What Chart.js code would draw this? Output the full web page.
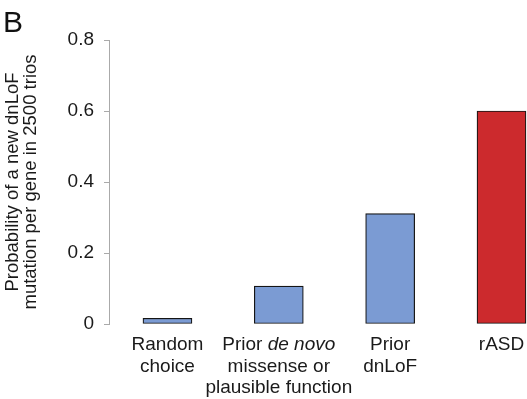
<!DOCTYPE html>
<html>
<head>
<meta charset="utf-8">
<script src="https://cdn.jsdelivr.net/npm/chart.js@4.4.1/dist/chart.umd.min.js"></script>
<style>
  html, body { margin: 0; padding: 0; background: #fff; }
  #wrap { position: relative; width: 527px; height: 399px; }
  canvas { display: block; }
</style>
</head>
<body>
<div id="wrap"><canvas id="c" width="527" height="399"></canvas></div>
<script>
// Categories (multi-line labels) and probabilities per gene in 2500 trios
const categories = [
  ["Random", "choice"],
  ["Prior de novo", "missense or", "plausible function"],
  ["Prior", "dnLoF"],
  ["rASD"]
];
const probabilities = [0.016, 0.107, 0.311, 0.600];
const barColors = ["#7b9bd3", "#7b9bd3", "#7b9bd3", "#cc2a2d"];
const yTicks = [0, 0.2, 0.4, 0.6, 0.8];
const yTitle = ["Probability of a new dnLoF", "mutation per gene in 2500 trios"];
const italicPhrases = ["de novo"];

const FONT = "'Liberation Sans', Arial, Helvetica, sans-serif";
const TEXT = "#1a1a1a";

// Draws the multi-line category labels under each bar, with italic phrases
const categoryLabels = {
  id: "categoryLabels",
  afterDraw(chart) {
    const ctx = chart.ctx;
    const xs = chart.scales.x;
    const base = chart.scales.y.getPixelForValue(0);
    const size = 19, lineH = 21.5;
    ctx.save();
    ctx.fillStyle = TEXT;
    ctx.textBaseline = "alphabetic";
    categories.forEach((lines, i) => {
      const cx = xs.getPixelForValue(i);
      lines.forEach((line, j) => {
        // split the line into normal / italic runs
        const runs = [];
        let rest = line;
        while (rest.length) {
          let hit = -1, phrase = null;
          italicPhrases.forEach(p => {
            const k = rest.indexOf(p);
            if (k >= 0 && (hit < 0 || k < hit)) { hit = k; phrase = p; }
          });
          if (hit < 0) { runs.push([rest, false]); break; }
          if (hit > 0) runs.push([rest.slice(0, hit), false]);
          runs.push([phrase, true]);
          rest = rest.slice(hit + phrase.length);
        }
        const fontFor = it => (it ? "italic " : "") + size + "px " + FONT;
        let total = 0;
        runs.forEach(r => { ctx.font = fontFor(r[1]); total += ctx.measureText(r[0]).width; });
        let x = cx - total / 2;
        const y = base + 26 + j * lineH;
        ctx.textAlign = "left";
        runs.forEach(r => {
          ctx.font = fontFor(r[1]);
          ctx.fillText(r[0], x, y);
          x += ctx.measureText(r[0]).width;
        });
      });
    });
    ctx.restore();
  }
};

new Chart(document.getElementById("c"), {
  type: "bar",
  data: {
    datasets: [{
      data: probabilities.map((v, i) => ({ x: i, y: v })),
      backgroundColor: barColors,
      borderColor: "#151515",
      borderWidth: 1.2,
      borderSkipped: false,
      barThickness: 49
    }]
  },
  options: {
    responsive: false,
    animation: false,
    devicePixelRatio: 1,
    layout: { padding: { left: 0, right: 0, top: 40, bottom: 75 } },
    plugins: { legend: { display: false }, tooltip: { enabled: false } },
    scales: {
      x: {
        type: "linear",
        offset: false,
        min: -0.525,
        max: 3.229,
        display: false
      },
      y: {
        min: 0,
        max: 0.8,
        afterFit(scale) { scale.width = 109; },
        afterBuildTicks(scale) { scale.ticks = yTicks.map(v => ({ value: v })); },
        border: { display: true, color: "#aaaaaa", width: 1 },
        grid: { display: true, drawOnChartArea: false, drawTicks: true, tickLength: 5, color: "#aaaaaa" },
        ticks: {
          color: TEXT,
          padding: 10,
          font: { family: FONT, size: 19 },
          callback: v => (v === 0 ? "0" : v.toFixed(1))
        },
        title: {
          display: true,
          text: yTitle,
          color: TEXT,
          padding: { top: 3.5, bottom: 0 },
          font: { family: FONT, size: 18.5, lineHeight: 1.0 }
        }
      }
    }
  },
  plugins: [categoryLabels, {
    id: "panelLetter",
    afterDraw(chart) {
      const ctx = chart.ctx;
      ctx.save();
      ctx.fillStyle = "#111";
      ctx.font = "30px " + FONT;
      ctx.textBaseline = "alphabetic";
      ctx.fillText("B", 3, 32);
      ctx.restore();
    }
  }]
});
</script>
</body>
</html>
